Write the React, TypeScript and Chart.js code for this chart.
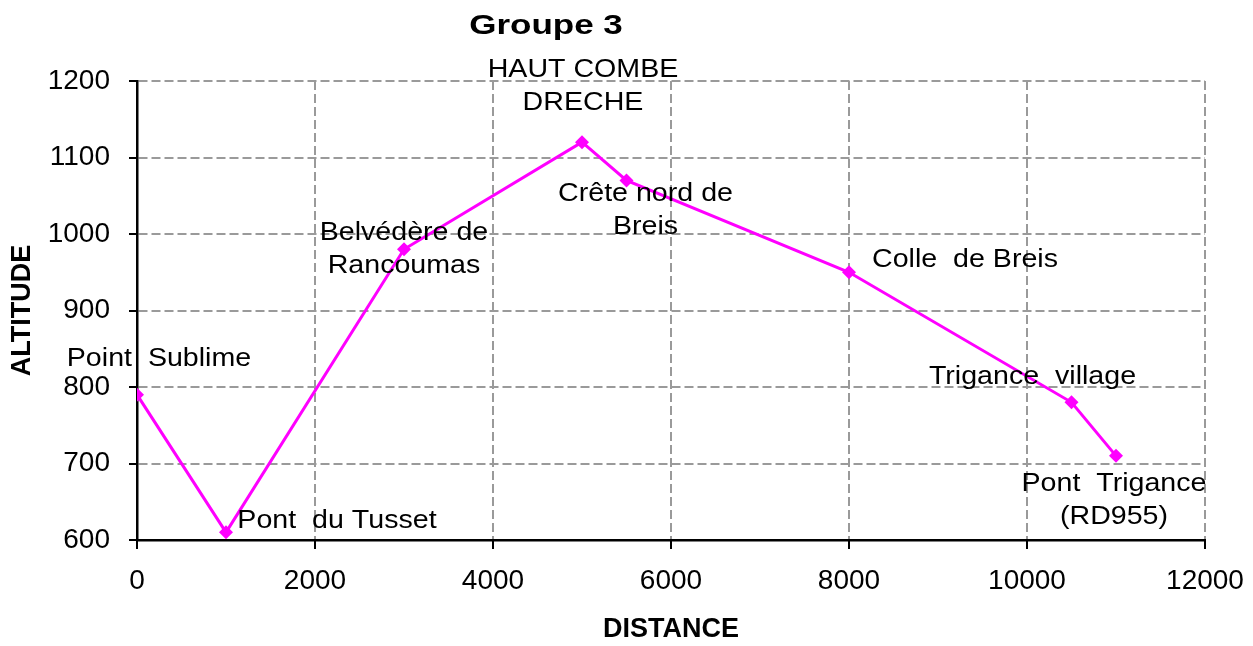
import { useEffect, useRef } from "react";
import { Chart, registerables } from "chart.js";

Chart.register(...registerables);

// ---- data ----
const distances = [0, 1000, 3000, 5000, 5500, 8000, 10500, 11000];
const altitudes = [790, 610, 980, 1120, 1070, 950, 780, 710];
const placeNames: string[][] = [
  ["Point  Sublime"],
  ["Pont  du Tusset"],
  ["Belvédère de", "Rancoumas"],
  ["HAUT COMBE", "DRECHE"],
  ["Crête nord de", "Breis"],
  ["Colle  de Breis"],
  ["Trigance  village"],
  ["Pont  Trigance", "(RD955)"],
];
const chartTitle = "Groupe 3";
const xTitle = "DISTANCE";
const yTitle = "ALTITUDE";
const xMin = 0, xMax = 12000, xStep = 2000;
const yMin = 600, yMax = 1200, yStep = 100;

// ---- label placement (pixels, relative to the point) ----
const labelOffsets: [number, number][] = [
  [22, -36],
  [111, -12],
  [0, 0],
  [1, -56],
  [19, 30],
  [116, -12],
  [-39, -25],
  [-2, 44],
];

const FONT = "'Liberation Sans', Arial, Helvetica, sans-serif";
const MAGENTA = "#FF00FF";

const overlayPlugin = {
  id: "overlay",
  afterDatasetsDraw(chart: any) {
    const ctx = chart.ctx as CanvasRenderingContext2D;
    const meta = chart.getDatasetMeta(0);
    ctx.save();
    ctx.fillStyle = "#000";
    ctx.font = `26px ${FONT}`;
    ctx.textAlign = "center";
    ctx.textBaseline = "middle";
    const lineH = 33;
    meta.data.forEach((el: any, i: number) => {
      const lines = placeNames[i];
      const [dx, dy] = labelOffsets[i];
      const cx = el.x + dx;
      const cy = el.y + dy;
      lines.forEach((ln, j) => {
        const y = cy + (j - (lines.length - 1) / 2) * lineH;
        ctx.save();
        ctx.translate(cx, y);
        ctx.scale(1.1, 1);
        ctx.fillText(ln, 0, 0);
        ctx.restore();
      });
    });
    ctx.restore();
  },
  afterDraw(chart: any) {
    const ctx = chart.ctx as CanvasRenderingContext2D;
    const xs = chart.scales.x;
    const ys = chart.scales.y;
    const area = chart.chartArea;
    ctx.save();
    // tick marks
    ctx.strokeStyle = "#000";
    ctx.lineWidth = 2;
    ctx.beginPath();
    ys.ticks.forEach((t: any) => {
      const y = Math.round(ys.getPixelForValue(t.value));
      ctx.moveTo(area.left - 8, y);
      ctx.lineTo(area.left, y);
    });
    xs.ticks.forEach((t: any) => {
      const x = Math.round(xs.getPixelForValue(t.value));
      ctx.moveTo(x, area.bottom);
      ctx.lineTo(x, area.bottom + 9);
    });
    ctx.stroke();
    // chart title
    ctx.fillStyle = "#000";
    ctx.font = `bold 28px ${FONT}`;
    ctx.textAlign = "center";
    ctx.textBaseline = "middle";
    ctx.translate(546, 26);
    ctx.scale(1.25, 1);
    ctx.fillText(chartTitle, 0, 0);
    ctx.restore();
  },
};

export default function App() {
  const canvasRef = useRef<HTMLCanvasElement | null>(null);

  useEffect(() => {
    document.body.style.margin = "0";
    const canvas = canvasRef.current;
    if (!canvas) return;
    const chart = new Chart(canvas, {
      type: "line",
      data: {
        datasets: [
          {
            label: "Altitude",
            data: distances.map((d, i) => ({ x: d, y: altitudes[i] })),
            borderColor: MAGENTA,
            backgroundColor: MAGENTA,
            borderWidth: 3,
            pointStyle: "rectRot",
            pointRadius: 7,
            pointBorderWidth: 0,
            pointBackgroundColor: MAGENTA,
            tension: 0,
            fill: false,
          },
        ],
      },
      options: {
        animation: false,
        responsive: true,
        maintainAspectRatio: false,
        layout: { padding: { top: 81, right: 48, left: 0, bottom: 0 } },
        plugins: {
          legend: { display: false },
          title: { display: false },
          tooltip: { enabled: false },
        },
        scales: {
          x: {
            type: "linear",
            min: xMin,
            max: xMax,
            afterFit: (scale: any) => {
              scale.height = 106;
              scale.paddingLeft = 0;
              scale.paddingRight = 0;
            },
            ticks: {
              stepSize: xStep,
              padding: 24,
              color: "#000",
              font: { family: FONT, size: 28 },
              maxRotation: 0,
              callback: (v: any) => String(v),
            },
            grid: {
              color: "#9a9a9a",
              lineWidth: 2,
              drawTicks: false,
            },
            border: { display: true, color: "#000", width: 2.5, dash: [9, 4] },
            title: {
              display: true,
              text: xTitle,
              color: "#000",
              font: { family: FONT, size: 27, weight: "bold" },
              padding: { top: 0, bottom: 0 },
            },
          },
          y: {
            type: "linear",
            min: yMin,
            max: yMax,
            afterFit: (scale: any) => {
              scale.width = 137;
              scale.paddingTop = 0;
              scale.paddingBottom = 0;
            },
            ticks: {
              stepSize: yStep,
              padding: 27,
              color: "#000",
              font: { family: FONT, size: 28 },
              callback: (v: any) => String(v),
            },
            grid: {
              color: "#9a9a9a",
              lineWidth: 2,
              drawTicks: false,
            },
            border: { display: true, color: "#000", width: 2.5, dash: [9, 4] },
            title: {
              display: true,
              text: yTitle,
              color: "#000",
              font: { family: FONT, size: 27, weight: "bold" },
              padding: { top: 6, bottom: 0 },
            },
          },
        },
      },
      plugins: [overlayPlugin],
    });
    return () => chart.destroy();
  }, []);

  return (
    <div style={{ width: 1253, height: 646, position: "relative" }}>
      <canvas ref={canvasRef} />
    </div>
  );
}
